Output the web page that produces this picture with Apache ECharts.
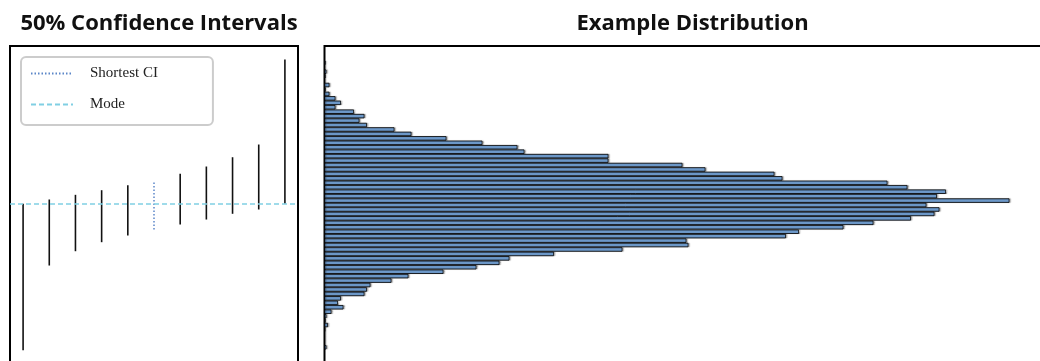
<!DOCTYPE html>
<html><head><meta charset="utf-8">
<script src="https://cdn.jsdelivr.net/npm/echarts@6/dist/echarts.min.js"></script>
<style>html,body{margin:0;padding:0;background:#fff}#c{width:1040px;height:361px}</style>
</head><body><div id="c"></div>
<script>
// Histogram bins (bin centres, top to bottom) and counts
const binCenters = [64,63,62,61,60,59,58,57,56,55,54,53,52,51,50,49,48,47,46,45,44,43,42,41,40,39,38,37,36,35,34,33,32,31,30,29,28,27,26,25,24,23,22,21,20,19,18,17,16,15,14,13,12,11,10,9,8,7,6,5,4,3,2,1,0];
const binCounts = [1,0,2,1,0,5,1,5,11,16.5,11,29.5,40,35,42.5,70,87,122,158,193,200,284,284,358,381,450,458,563,583,621.5,612.5,685,602,615,610,586.5,549,519,474.5,461.5,362,364,298,229.5,185,175,152,119,84,67,46,42.5,40,16.5,13.5,19,7,2,1,3.5,0.5,0,0,0,2];

// 50% confidence intervals
const ciPositions = [0,1,2,3,4,5,6,7,8,9,10];
const ciLower = [-0.68,18.38,21.6,23.63,25.13,26.48,27.61,28.73,30.02,30.99,32.27];
const ciUpper = [32.27,33.24,34.29,35.33,36.45,37.35,39.02,40.66,42.75,45.61,64.74];
const shortestIndex = 5;
const modeValue = 32.27;

const Y_MIN = -3.78, Y_MAX = 67.78;

const chart = echarts.init(document.getElementById('c'), null, {renderer: 'canvas'});

const solidCI = ciPositions.filter((p, i) => i !== shortestIndex).map(p => [p, ciLower[p], ciUpper[p]]);
const shortestCI = [[ciPositions[shortestIndex], ciLower[shortestIndex]], [ciPositions[shortestIndex], ciUpper[shortestIndex]]];

const titleFont = {fontFamily: 'Open Sans', fontWeight: 'bold', fontSize: 22, color: '#111'};
const dotColor = '#5b86c8';
const modeColor = '#80cfe3';

const option = {
  animation: false,
  backgroundColor: '#fff',
  title: [
    {text: '50% Confidence Intervals', left: 154, top: 8, textAlign: 'center', textStyle: titleFont},
    {text: 'Example Distribution', left: 687.5, top: 8, textAlign: 'center', textStyle: titleFont}
  ],
  legend: {
    data: ['Shortest CI', 'Mode'],
    orient: 'vertical', left: 21, top: 57,
    itemWidth: 42, itemHeight: 14, itemGap: 16,
    padding: [9, 55, 13, 9],
    itemStyle: {opacity: 0},
    backgroundColor: '#fff', borderColor: '#cccccc', borderWidth: 2, borderRadius: 5,
    textStyle: {fontFamily: 'Liberation Serif', fontSize: 15, color: '#222', padding: [0, 0, 0, 12]}
  },
  grid: [
    {left: 10, top: 46, width: 288, height: 318, show: true, borderColor: '#000', borderWidth: 2, backgroundColor: 'transparent', outerBoundsMode: 'none'},
    {left: 324.5, top: 46, width: 726.5, height: 318, show: true, borderColor: '#000', borderWidth: 2, backgroundColor: 'transparent', outerBoundsMode: 'none'},
    {left: 324.5, top: 60.58, width: 726.5, height: 288.9, outerBoundsMode: 'none'}
  ],
  xAxis: [
    {gridIndex: 0, type: 'value', min: -0.5, max: 10.5, show: false},
    {gridIndex: 1, type: 'value', min: 0, max: 726.5, show: false},
    {gridIndex: 2, type: 'value', min: 0, max: 726.5, show: false}
  ],
  yAxis: [
    {gridIndex: 0, type: 'value', min: Y_MIN, max: Y_MAX, show: false},
    {gridIndex: 1, type: 'value', min: Y_MIN, max: Y_MAX, show: false},
    {gridIndex: 2, type: 'category', data: binCenters.map(String), inverse: true, show: false}
  ],
  series: [
    {
      type: 'custom', name: 'CI', xAxisIndex: 0, yAxisIndex: 0,
      data: solidCI, encode: {x: 0, y: [1, 2]},
      renderItem: function (params, api) {
        const p0 = api.coord([api.value(0), api.value(1)]);
        const p1 = api.coord([api.value(0), api.value(2)]);
        return {type: 'line', shape: {x1: p0[0], y1: p0[1], x2: p1[0], y2: p1[1]},
                style: {stroke: '#111', lineWidth: 1.6}};
      },
      z: 2
    },
    {
      type: 'line', name: 'Shortest CI', xAxisIndex: 0, yAxisIndex: 0,
      data: shortestCI, symbol: 'none', color: dotColor,
      lineStyle: {color: dotColor, width: 1.5, type: [1.5, 2]},
      z: 3
    },
    {
      type: 'line', name: 'Mode', xAxisIndex: 0, yAxisIndex: 0,
      data: [], symbol: 'none', color: modeColor,
      lineStyle: {color: modeColor, width: 1.5, type: [5, 3]},
      markLine: {symbol: 'none', silent: true, label: {show: false},
        lineStyle: {color: modeColor, width: 1.5, type: [5, 3]},
        data: [{yAxis: modeValue}]},
      z: 5
    },
    {
      type: 'bar', name: 'Distribution', xAxisIndex: 2, yAxisIndex: 2,
      data: binCounts, barWidth: '100%',
      itemStyle: {color: '#6d99ca', borderColor: '#000', borderWidth: 0.8,
        shadowColor: 'rgba(0,0,0,0.22)', shadowBlur: 1, shadowOffsetX: 1.5, shadowOffsetY: 0}
    }
  ]
};
chart.setOption(option);
</script>
</body></html>
